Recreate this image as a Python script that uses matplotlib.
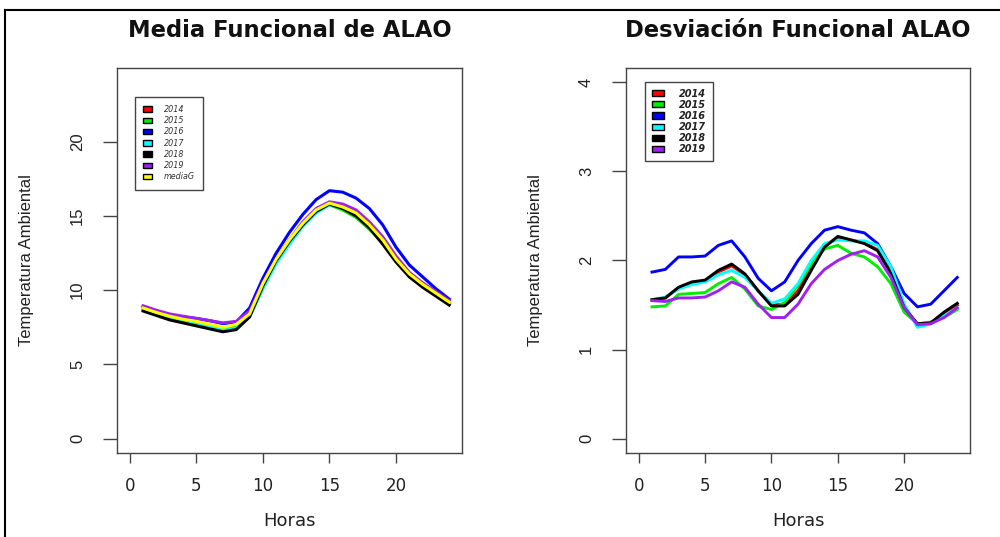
import matplotlib
matplotlib.use("Agg")
import matplotlib.pyplot as plt
from matplotlib.patches import Patch
from matplotlib.lines import Line2D

plt.rcParams['font.family'] = ['DejaVu Sans']

horas = list(range(1, 25))

# Media funcional por año (temperatura ambiente)
media_2014 = [8.75, 8.45, 8.2, 8.0, 7.85, 7.65, 7.45, 7.6, 8.35, 10.4, 12.05, 13.35, 14.45, 15.35, 15.8, 15.55, 15.1, 14.3, 13.3, 12.05, 11.05, 10.35, 9.75, 9.15]
media_2015 = [8.7, 8.4, 8.15, 7.95, 7.8, 7.6, 7.4, 7.55, 8.3, 10.3, 12.0, 13.3, 14.4, 15.3, 15.75, 15.4, 14.9, 14.1, 13.2, 12.0, 11.0, 10.3, 9.7, 9.1]
media_2016 = [8.9, 8.6, 8.35, 8.2, 8.1, 7.95, 7.75, 7.85, 8.8, 10.8, 12.5, 13.9, 15.1, 16.1, 16.7, 16.6, 16.2, 15.5, 14.4, 12.9, 11.7, 10.9, 10.1, 9.4]
media_2017 = [8.7, 8.35, 8.05, 7.85, 7.7, 7.5, 7.3, 7.45, 8.2, 10.1, 11.8, 13.1, 14.3, 15.2, 15.75, 15.6, 15.2, 14.4, 13.3, 12.0, 11.0, 10.3, 9.7, 9.1]
media_2018 = [8.6, 8.3, 8.0, 7.8, 7.6, 7.4, 7.2, 7.35, 8.2, 10.3, 12.0, 13.3, 14.4, 15.3, 15.8, 15.5, 15.0, 14.2, 13.1, 11.9, 10.9, 10.2, 9.6, 9.0]
media_2019 = [8.95, 8.65, 8.4, 8.25, 8.1, 7.95, 7.8, 7.9, 8.6, 10.5, 12.1, 13.4, 14.6, 15.5, 15.95, 15.8, 15.4, 14.6, 13.6, 12.3, 11.2, 10.5, 9.9, 9.3]
media_global = [8.8, 8.5, 8.25, 8.05, 7.9, 7.7, 7.5, 7.7, 8.4, 10.45, 12.1, 13.4, 14.5, 15.4, 15.86, 15.6, 15.2, 14.4, 13.4, 12.1, 11.1, 10.4, 9.8, 9.2]

# Desviación funcional por año
desv_2014 = [1.56, 1.58, 1.69, 1.75, 1.77, 1.87, 1.94, 1.84, 1.66, 1.5, 1.51, 1.66, 1.92, 2.16, 2.26, 2.23, 2.2, 2.12, 1.87, 1.48, 1.28, 1.3, 1.41, 1.5]
desv_2015 = [1.48, 1.49, 1.62, 1.63, 1.64, 1.74, 1.81, 1.68, 1.49, 1.45, 1.53, 1.72, 1.96, 2.13, 2.17, 2.08, 2.04, 1.93, 1.74, 1.42, 1.29, 1.31, 1.36, 1.45]
desv_2016 = [1.87, 1.9, 2.04, 2.04, 2.05, 2.17, 2.22, 2.04, 1.8, 1.66, 1.76, 2.0, 2.19, 2.34, 2.38, 2.34, 2.31, 2.19, 1.93, 1.63, 1.48, 1.51, 1.66, 1.81]
desv_2017 = [1.56, 1.59, 1.68, 1.73, 1.76, 1.84, 1.89, 1.81, 1.66, 1.52, 1.57, 1.74, 2.0, 2.19, 2.23, 2.22, 2.22, 2.17, 1.93, 1.51, 1.25, 1.29, 1.38, 1.47]
desv_2018 = [1.56, 1.58, 1.7, 1.76, 1.78, 1.89, 1.96, 1.85, 1.66, 1.49, 1.49, 1.62, 1.89, 2.15, 2.27, 2.23, 2.19, 2.11, 1.85, 1.47, 1.29, 1.3, 1.42, 1.52]
desv_2019 = [1.55, 1.54, 1.58, 1.58, 1.59, 1.66, 1.76, 1.7, 1.51, 1.36, 1.36, 1.51, 1.74, 1.9, 2.0, 2.07, 2.11, 2.04, 1.81, 1.47, 1.28, 1.29, 1.36, 1.47]

etiquetas = ["2014", "2015", "2016", "2017", "2018", "2019"]
colores = ["#ff0000", "#00ee00", "#0000ff", "#00ffff", "#000000", "#a020f0"]
color_global = "#ffff00"

medias = [media_2014, media_2015, media_2016, media_2017, media_2018, media_2019]
desvs = [desv_2014, desv_2015, desv_2016, desv_2017, desv_2018, desv_2019]

x_ticks = [0, 5, 10, 15, 20]
y_ticks_media = [0, 5, 10, 15, 20]
y_ticks_desv = [0, 1, 2, 3, 4]

fig = plt.figure(figsize=(10, 5.37), dpi=100)
fig.patch.set_facecolor("white")

ax1 = fig.add_axes([0.117, 0.1564, 0.345, 0.717])
ax2 = fig.add_axes([0.626, 0.1564, 0.344, 0.717])

for serie, col in zip(medias, colores):
    ax1.plot(horas, serie, color=col, lw=2.2)
ax1.plot(horas, media_global, color=color_global, lw=2.2)

for serie, col in zip(desvs, colores):
    ax2.plot(horas, serie, color=col, lw=2.1)

ARIAL = ['Liberation Sans', 'DejaVu Sans']


def estilo_r(ax, yticks, ylim, titulo):
    ax.set_xlim(-0.96, 24.96)
    ax.set_ylim(*ylim)
    ax.set_xticks(x_ticks)
    ax.set_yticks(yticks)
    ax.set_xticklabels([str(v) for v in x_ticks], fontsize=12, color="#222222")
    ax.set_yticklabels([str(v) for v in yticks], rotation=90, va="center",
                       family=ARIAL, fontsize=12, color="#222222")
    ax.tick_params(axis="x", direction="out", length=7.5, width=1,
                   color="#444444", pad=10)
    ax.tick_params(axis="y", direction="out", length=10, width=1,
                   color="#444444", pad=13)
    for s in ax.spines.values():
        s.set_color("#444444")
        s.set_linewidth(1.0)
    ax.set_xlabel("Horas", fontsize=13, color="#222222", labelpad=12)
    ax.set_ylabel("Temperatura Ambiental", family=ARIAL, fontsize=12,
                  color="#222222", labelpad=26)
    ax.set_title(titulo, fontsize=16.3, fontweight="bold", pad=22, color="#111111")


estilo_r(ax1, y_ticks_media, (-0.96, 24.96), "Media Funcional de ALAO")
estilo_r(ax2, y_ticks_desv, (-0.16, 4.16), "Desviación Funcional ALAO")

handles1 = [Patch(facecolor=c, edgecolor="black", lw=1.0) for c in colores + [color_global]]
leg1 = ax1.legend(handles1, etiquetas + ["mediaG"], loc="upper left",
                  bbox_to_anchor=(0.052, 0.925),
                  prop={"style": "italic", "size": 5.8},
                  handlelength=1.1, handleheight=0.7, handletextpad=1.5,
                  labelspacing=0.28, borderpad=1.0, borderaxespad=0,
                  fancybox=False, edgecolor="#444444", framealpha=1)
leg1.get_frame().set_linewidth(1.0)
for t in leg1.get_texts():
    t.set_color("#333333")

handles2 = [Patch(facecolor=c, edgecolor="black", lw=1.0) for c in colores]
leg2 = ax2.legend(handles2, etiquetas, loc="upper left",
                  bbox_to_anchor=(0.055, 0.964),
                  prop={"style": "italic", "weight": "bold", "size": 7},
                  handlelength=1.3, handleheight=0.6, handletextpad=1.5,
                  labelspacing=0.12, borderpad=0.7, borderaxespad=0,
                  fancybox=False, edgecolor="#444444", framealpha=1)
leg2.get_frame().set_linewidth(1.0)
for t in leg2.get_texts():
    t.set_color("#222222")

# marco exterior (bordes superior e izquierdo)
fig.add_artist(Line2D([0.005, 1.0], [1 - 10 / 537, 1 - 10 / 537], color="black", lw=1.5))
fig.add_artist(Line2D([0.005, 0.005], [0.0, 1 - 10 / 537], color="black", lw=1.5))

fig.savefig("out.png", dpi=100, facecolor="white")
